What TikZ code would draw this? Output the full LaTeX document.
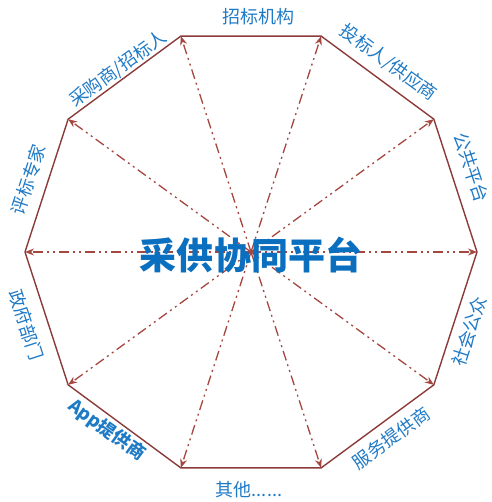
\documentclass[tikz,border=0pt]{standalone}
\usepackage{fontspec}
\setmainfont{Noto Sans CJK SC}
\usetikzlibrary{arrows.meta}
\definecolor{rimred}{HTML}{8B3A3A}
\definecolor{rayred}{HTML}{A5463F}
\definecolor{partyblue}{HTML}{1F7AC6}
\definecolor{hubblue}{HTML}{0A6FBF}

\begin{document}
\begin{tikzpicture}[x=1pt,y=1pt,
    ray/.style={draw=rayred, line width=1.3pt, dash pattern=on 10pt off 4pt on 2pt off 4pt on 2pt off 4pt, -{Stealth[length=9pt,width=7pt]}},
    rim/.style={draw=rimred, line width=1.4pt, line join=miter},
    party/.style={text=partyblue, font=\fontsize{18}{20}\selectfont, inner sep=0pt}]
    \useasboundingbox (-251,-250) rectangle (240,252);
    \coordinate (O) at (0,0);
    \coordinate (v0) at (0:226);
    \coordinate (v1) at (36:226);
    \coordinate (v2) at (72:227);
    \coordinate (v3) at (108:227);
    \coordinate (v4) at (144:226);
    \coordinate (v5) at (180:226);
    \coordinate (v6) at (216:226);
    \coordinate (v7) at (252:227);
    \coordinate (v8) at (288:227);
    \coordinate (v9) at (324:226);
    \draw[rim] (v0)--(v1)--(v2)--(v3)--(v4)--(v5)--(v6)--(v7)--(v8)--(v9)--cycle;
    \draw[ray] (O)--(v0);
    \draw[ray] (O)--(v1);
    \draw[ray] (O)--(v2);
    \draw[ray] (O)--(v3);
    \draw[ray] (O)--(v4);
    \draw[ray] (O)--(v5);
    \draw[ray] (O)--(v6);
    \draw[ray] (O)--(v7);
    \draw[ray] (O)--(v8);
    \draw[ray] (O)--(v9);
    \node[text=hubblue, font=\fontsize{37}{40}\selectfont\bfseries] (hub) at (0,-3) {采供协同平台};
    \node[party] (agency) at (7,235) {招标机构};
    \node[party, rotate=-36] (bidder) at (54:234) {投标人/供应商};
    \node[party, rotate=-72] (public) at (21:236) {公共平台};
    \node[party, rotate=72] (society) at (-20:232) {社会公众};
    \node[party, rotate=36] (service) at (-53:233) {服务提供商};
    \node[party] (others) at (-2,-238) {其他......};
    \node[party, rotate=-36, font=\fontsize{18}{20}\selectfont\bfseries] (app) at (-129:229) {App提供商};
    \node[party, rotate=-72] (gov) at (-162:236) {政府部门};
    \node[party, rotate=72] (expert) at (162:234) {评标专家};
    \node[party, rotate=36] (buyer) at (126:226) {采购商/招标人};
\end{tikzpicture}
\end{document}
